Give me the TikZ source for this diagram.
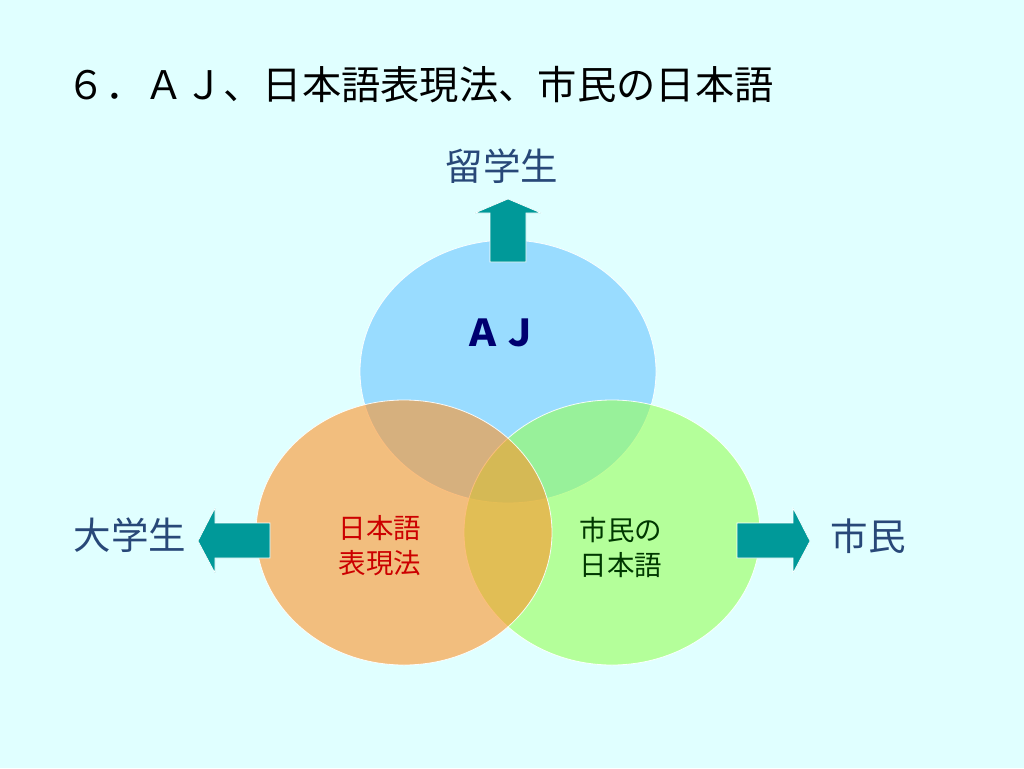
\documentclass[tikz,border=0pt]{standalone}
\usepackage{fontspec}
\newfontfamily\cjk{Noto Sans CJK JP}
\definecolor{bgc}{RGB}{224,255,255}
\definecolor{bluec}{RGB}{106,198,255}
\definecolor{orangec}{RGB}{255,148,40}
\definecolor{greenc}{RGB}{152,255,88}
\definecolor{tealc}{RGB}{0,153,153}
\definecolor{labelc}{RGB}{40,72,120}
\definecolor{redc}{RGB}{204,0,0}
\definecolor{darkgreenc}{RGB}{0,56,0}
\definecolor{navyc}{RGB}{0,0,112}
\tikzset{
  circ/.style={draw=white, draw opacity=0.9, line width=0.8pt, fill opacity=0.6},
  blockarrow/.style={fill=tealc, draw=white, line width=0.6pt},
  lbl/.style={font=\cjk\fontsize{37.5}{40}\selectfont, text=labelc, inner sep=0pt, anchor=base},
  inner/.style={font=\cjk\fontsize{27.5}{35}\selectfont, inner sep=0pt, align=center}
}
\begin{document}
\begin{tikzpicture}[x=1pt,y=-1pt]
\useasboundingbox (0,0) rectangle (1024,768);
\fill[bgc] (0,0) rectangle (1024,768);
% title
\node[font=\cjk\fontsize{39.3}{42}\selectfont, anchor=base west, inner sep=0pt] (title) at (66,99) {６．ＡＪ、日本語表現法、市民の日本語};
% circles
\filldraw[circ, fill=bluec] (508,371.5) ellipse [x radius=148, y radius=131.5];
\filldraw[circ, fill=greenc] (612,532.5) ellipse [x radius=148, y radius=132.5];
\filldraw[circ, fill=orangec] (404,532.5) ellipse [x radius=148, y radius=132.5];
% arrows
\filldraw[blockarrow] (490,262) -- (490,213) -- (475,213) -- (508,199) -- (541,213) -- (526,213) -- (526,262) -- cycle;
\filldraw[blockarrow] (270,523) -- (215,523) -- (215,508) -- (198,541) -- (215,573) -- (215,558) -- (270,558) -- cycle;
\filldraw[blockarrow] (737,523) -- (793,523) -- (793,508) -- (810,541) -- (793,573) -- (793,558) -- (737,558) -- cycle;
% labels
\node[lbl] (ryu) at (502,180) {留学生};
\node[lbl] (dai) at (130,549) {大学生};
\node[lbl] (shi) at (868,550) {市民};
\node[font=\cjk\bfseries\fontsize{37}{40}\selectfont, text=navyc, inner sep=0pt] (aj) at (501,333) {ＡＪ};
\node[inner, text=redc] (hyo) at (380,546) {日本語\\表現法};
\node[inner, text=darkgreenc] (shimin) at (621,547) {市民の\\日本語};
\end{tikzpicture}
\end{document}
